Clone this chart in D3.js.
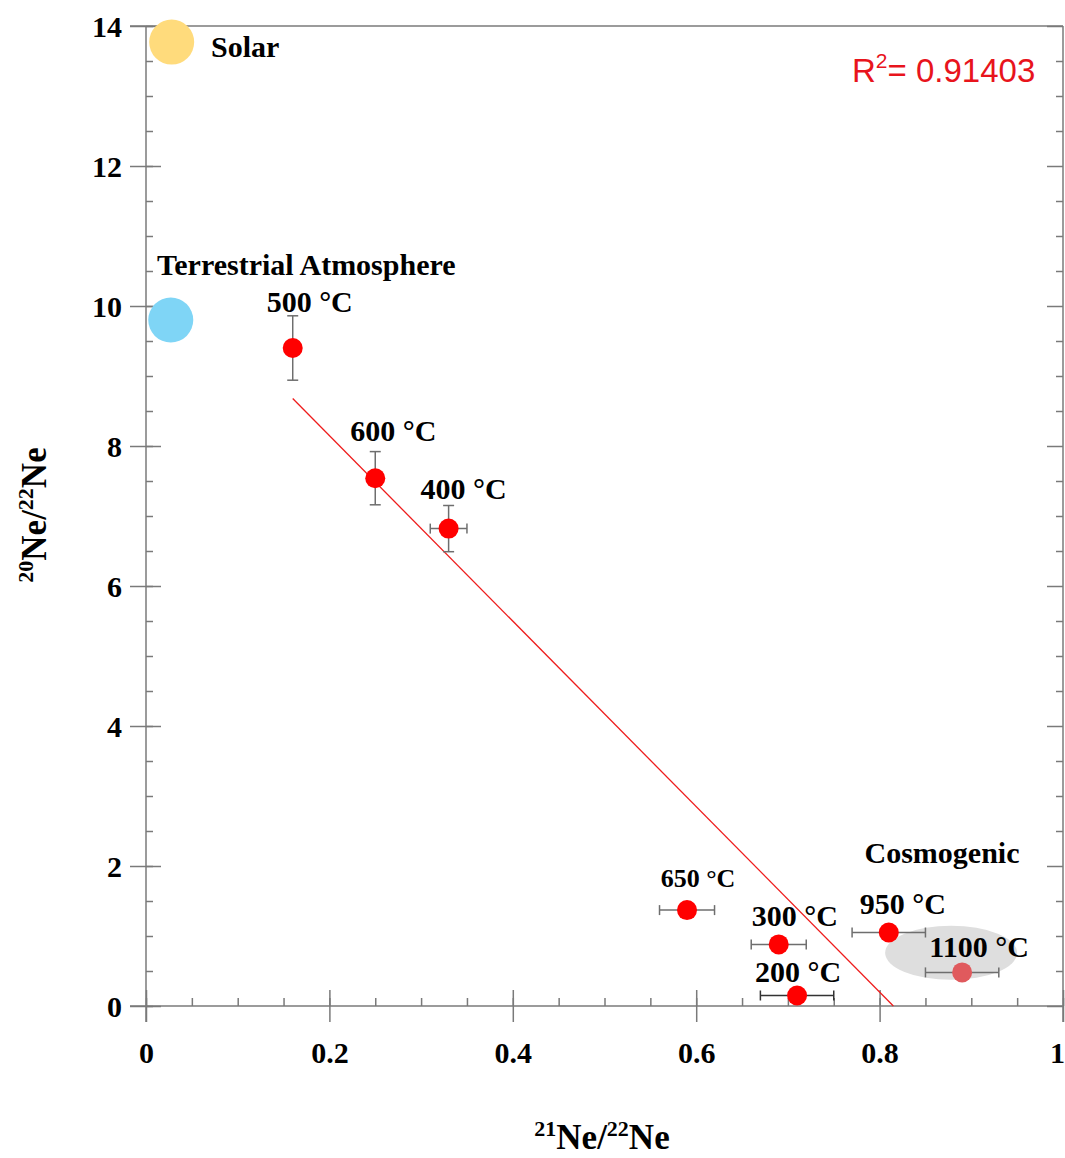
<!DOCTYPE html>
<html>
<head>
<meta charset="utf-8">
<script src="https://cdn.jsdelivr.net/npm/d3@7"></script>
<style>
  html, body { margin: 0; padding: 0; background: #fff; }
  svg { display: block; }
  .serif { font-family: "Liberation Serif", "Times New Roman", serif; font-weight: bold; fill: #000; }
</style>
</head>
<body>
<svg id="chart" width="1065" height="1158"></svg>
<script>
// Step-heating neon isotope data (21Ne/22Ne vs 20Ne/22Ne)
const steps = ["500 °C", "600 °C", "400 °C", "650 °C", "300 °C", "200 °C", "950 °C", "1100 °C"];
const ne21 = [0.16, 0.25, 0.33, 0.59, 0.69, 0.71, 0.81, 0.89];
const ne20 = [9.40, 7.54, 6.82, 1.37, 0.88, 0.15, 1.05, 0.48];
const errX = [0, 0, 0.02, 0.03, 0.03, 0.04, 0.04, 0.04];
const errY = [0.46, 0.38, 0.33, 0, 0, 0, 0, 0];

// Reference end-members
const endNames = ["Solar", "Terrestrial Atmosphere"];
const endNe21 = [0.028, 0.027];
const endNe20 = [13.77, 9.80];

// Cosmogenic field centre
const cosmoNe21 = 0.878;
const cosmoNe20 = 0.76;

const r2Text = "0.91403";
const xTicks = [0, 0.2, 0.4, 0.6, 0.8, 1];
const yTicks = [0, 2, 4, 6, 8, 10, 12, 14];

// ---- layout ----
const svg = d3.select("#chart");
const x = d3.scaleLinear().domain([0, 1]).range([146, 1063]);
const y = d3.scaleLinear().domain([0, 14]).range([1006, 26]);
const axisColor = "#7a7a7a";

// label offsets (pixels) relative to each step's point
const labelDx = [17, 18, 15, 11, 16, 1, 14, 17];
const labelDy = [-36, -37, -30, -23, -18, -14, -19, -15];
const labelSize = [30, 30, 30, 26, 30, 30, 30, 30];

// ---- axes ----
const gAx = svg.append("g");
function styleAxis(g) {
  g.select(".domain").remove();
  g.selectAll(".tick line").attr("stroke", axisColor).attr("stroke-width", 1.5);
}

// bottom: minor inward ticks
gAx.append("g").attr("transform", `translate(0,${y(0)})`)
  .call(d3.axisTop(x).tickValues(d3.range(0, 1.0001, 0.05)).tickSize(8).tickFormat(""))
  .call(styleAxis);
// bottom: major crossing ticks + labels
const bx = gAx.append("g").attr("transform", `translate(0,${y(0)})`)
  .call(d3.axisBottom(x).tickValues(xTicks).tickSize(16).tickPadding(24)
    .tickFormat(d => d === 0 || d === 1 ? d3.format("d")(d) : d3.format(".1f")(d)))
  .call(styleAxis);
bx.selectAll(".tick line").attr("y1", -16);
bx.selectAll(".tick text").attr("class", "serif").attr("font-size", 30).attr("dy", "0.71em").attr("y", 36)
  .attr("dx", d => d === 1 ? -6 : 0);

// left: minor inward ticks
gAx.append("g").attr("transform", `translate(${x(0)},0)`)
  .call(d3.axisRight(y).tickValues(d3.range(0, 14.001, 0.5)).tickSize(7).tickFormat(""))
  .call(styleAxis);
// left: major crossing ticks + labels
const ly = gAx.append("g").attr("transform", `translate(${x(0)},0)`)
  .call(d3.axisLeft(y).tickValues(yTicks).tickSize(16).tickPadding(8).tickFormat(d3.format("d")))
  .call(styleAxis);
ly.selectAll(".tick line").attr("x2", 15).attr("x1", -16);
ly.selectAll(".tick text").attr("class", "serif").attr("font-size", 30).attr("x", -24).attr("dy", "0.36em");

// right: inward ticks
gAx.append("g").attr("transform", `translate(${x(1)},0)`)
  .call(d3.axisLeft(y).tickValues(d3.range(0, 14.001, 0.5).filter(v => v % 2 !== 0)).tickSize(7).tickFormat(""))
  .call(styleAxis);
gAx.append("g").attr("transform", `translate(${x(1)},0)`)
  .call(d3.axisLeft(y).tickValues(yTicks).tickSize(16).tickFormat(""))
  .call(styleAxis);

// frame lines
const frame = gAx.append("g").attr("stroke", axisColor).attr("stroke-width", 1.5);
frame.append("line").attr("x1", x(0) - 16).attr("x2", x(1)).attr("y1", y(0)).attr("y2", y(0));
frame.append("line").attr("x1", x(0) - 16).attr("x2", x(1)).attr("y1", y(14)).attr("y2", y(14));
frame.append("line").attr("x1", x(0)).attr("x2", x(0)).attr("y1", y(14)).attr("y2", y(0) + 16);
frame.append("line").attr("x1", x(1)).attr("x2", x(1)).attr("y1", y(14)).attr("y2", y(0) + 16);

// ---- axis titles: isotope ratio with superscript mass numbers ----
function ratioTitle(g, upper, lower) {
  const parts = [
    { t: upper, sup: true }, { t: "Ne/", sup: false },
    { t: lower, sup: true }, { t: "Ne", sup: false }
  ];
  let cx = 0;
  const nodes = parts.map(p => g.append("text").attr("class", "serif")
    .attr("font-size", p.sup ? 22 : 35)
    .attr("y", p.sup ? -13 : 0)
    .text(p.t));
  nodes.forEach(el => {
    el.attr("x", cx);
    cx += el.node().getComputedTextLength();
  });
  nodes.forEach(el => el.attr("x", +el.attr("x") - cx / 2));
}
ratioTitle(svg.append("g").attr("transform", "translate(602,1149)"), "21", "22");
ratioTitle(svg.append("g").attr("transform", "translate(46,515) rotate(-90)"), "20", "22");

// ---- cosmogenic field ----
svg.append("ellipse")
  .attr("cx", x(cosmoNe21)).attr("cy", y(cosmoNe20))
  .attr("rx", 66).attr("ry", 27)
  .attr("fill", "#dedede");
svg.append("text").attr("class", "serif").attr("font-size", 30)
  .attr("x", 942).attr("y", 863).attr("text-anchor", "middle").text("Cosmogenic");

// ---- end-members ----
const endColors = ["#ffdb7c", "#7fd5f6"];
svg.selectAll("circle.end").data(endNames).join("circle")
  .attr("class", "end")
  .attr("cx", (d, i) => x(endNe21[i])).attr("cy", (d, i) => y(endNe20[i]))
  .attr("r", 22.5).attr("fill", (d, i) => endColors[i]);
svg.append("text").attr("class", "serif").attr("font-size", 30)
  .attr("x", 211).attr("y", 57).text(endNames[0]);
svg.append("text").attr("class", "serif").attr("font-size", 30)
  .attr("x", 157).attr("y", 275).text(endNames[1]);

// ---- least-squares line ----
const mx = d3.mean(ne21), my = d3.mean(ne20);
const sxy = d3.sum(ne21, (v, i) => (v - mx) * (ne20[i] - my));
const sxx = d3.sum(ne21, v => (v - mx) ** 2);
const slope = sxy / sxx;
const intercept = my - slope * mx;
const x0 = d3.min(ne21);
const x1 = -intercept / slope;
svg.append("line")
  .attr("x1", x(x0)).attr("y1", y(intercept + slope * x0))
  .attr("x2", x(x1)).attr("y2", y(0))
  .attr("stroke", "#ee1c1c").attr("stroke-width", 1.3);

// ---- error bars ----
const eb = svg.append("g").attr("stroke-width", 1.5).attr("fill", "none");
steps.forEach((s, i) => {
  const cx = x(ne21[i]), cy = y(ne20[i]);
  const col = s === "200 °C" ? "#333" : "#6e6e6e";
  if (errY[i] > 0) {
    const ya = y(ne20[i] + errY[i]), yb = y(ne20[i] - errY[i]);
    eb.append("line").attr("stroke", col).attr("x1", cx).attr("x2", cx).attr("y1", ya).attr("y2", yb);
    eb.append("line").attr("stroke", col).attr("x1", cx - 5.5).attr("x2", cx + 5.5).attr("y1", ya).attr("y2", ya);
    eb.append("line").attr("stroke", col).attr("x1", cx - 5.5).attr("x2", cx + 5.5).attr("y1", yb).attr("y2", yb);
  }
  if (errX[i] > 0) {
    const xa = x(ne21[i] - errX[i]), xb = x(ne21[i] + errX[i]);
    eb.append("line").attr("stroke", col).attr("x1", xa).attr("x2", xb).attr("y1", cy).attr("y2", cy);
    eb.append("line").attr("stroke", col).attr("x1", xa).attr("x2", xa).attr("y1", cy - 5).attr("y2", cy + 5);
    eb.append("line").attr("stroke", col).attr("x1", xb).attr("x2", xb).attr("y1", cy - 5).attr("y2", cy + 5);
  }
});

// ---- step points ----
svg.selectAll("circle.step").data(steps).join("circle")
  .attr("class", "step")
  .attr("cx", (d, i) => x(ne21[i])).attr("cy", (d, i) => y(ne20[i]))
  .attr("r", 10)
  .attr("fill", (d, i) => i === steps.length - 1 ? "#e05a5d" : "#ff0000");

svg.selectAll("text.step").data(steps).join("text")
  .attr("class", "serif step")
  .attr("font-size", (d, i) => labelSize[i])
  .attr("text-anchor", "middle")
  .attr("x", (d, i) => x(ne21[i]) + labelDx[i])
  .attr("y", (d, i) => y(ne20[i]) + labelDy[i])
  .text(d => d);

// ---- R² annotation ----
const rt = svg.append("text").attr("x", 852).attr("y", 82)
  .attr("font-family", "Liberation Sans, Arial, sans-serif")
  .attr("font-size", 33).attr("fill", "#e8141c");
rt.append("tspan").text("R");
rt.append("tspan").attr("font-size", 21).attr("dy", -14).text("2");
rt.append("tspan").attr("dy", 14).text("= " + r2Text);
</script>
</body>
</html>
